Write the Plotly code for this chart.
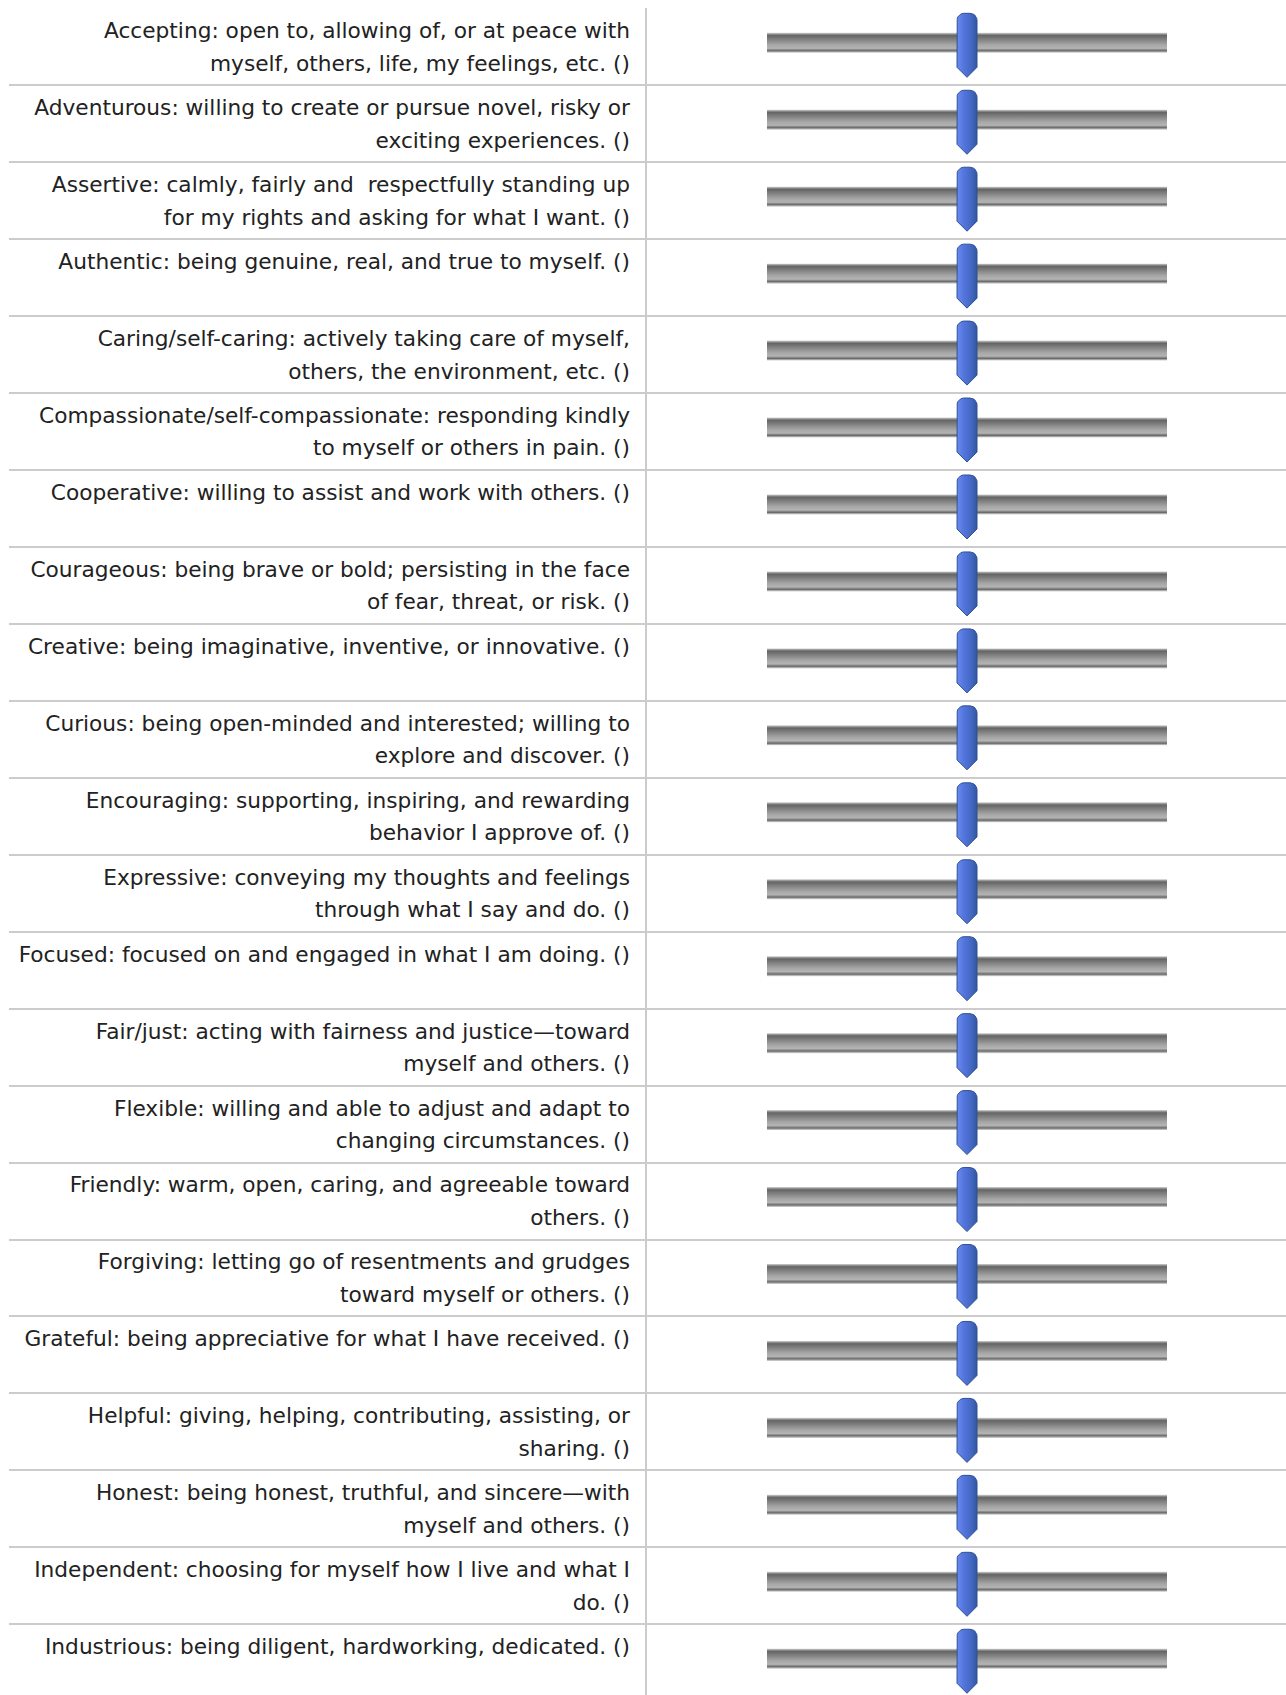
import numpy as np
import plotly.graph_objects as go

# ---- data ----
labels = [
    "Accepting: open to, allowing of, or at peace with<br>myself, others, life, my feelings, etc. ()",
    "Adventurous: willing to create or pursue novel, risky or<br>exciting experiences. ()",
    "Assertive: calmly, fairly and  respectfully standing up<br>for my rights and asking for what I want. ()",
    "Authentic: being genuine, real, and true to myself. ()",
    "Caring/self-caring: actively taking care of myself,<br>others, the environment, etc. ()",
    "Compassionate/self-compassionate: responding kindly<br>to myself or others in pain. ()",
    "Cooperative: willing to assist and work with others. ()",
    "Courageous: being brave or bold; persisting in the face<br>of fear, threat, or risk. ()",
    "Creative: being imaginative, inventive, or innovative. ()",
    "Curious: being open-minded and interested; willing to<br>explore and discover. ()",
    "Encouraging: supporting, inspiring, and rewarding<br>behavior I approve of. ()",
    "Expressive: conveying my thoughts and feelings<br>through what I say and do. ()",
    "Focused: focused on and engaged in what I am doing. ()",
    "Fair/just: acting with fairness and justice\u2014toward<br>myself and others. ()",
    "Flexible: willing and able to adjust and adapt to<br>changing circumstances. ()",
    "Friendly: warm, open, caring, and agreeable toward<br>others. ()",
    "Forgiving: letting go of resentments and grudges<br>toward myself or others. ()",
    "Grateful: being appreciative for what I have received. ()",
    "Helpful: giving, helping, contributing, assisting, or<br>sharing. ()",
    "Honest: being honest, truthful, and sincere\u2014with<br>myself and others. ()",
    "Independent: choosing for myself how I live and what I<br>do. ()",
    "Industrious: being diligent, hardworking, dedicated. ()",
]
values = [50] * 22
slider_min = 0
slider_max = 100

# ---- geometry (pixels) ----
W, H = 1286, 1695
ROW = 76.95
TOP = 8.3
LEFT = 9
DIV = 646.7
TEXT_RIGHT = 630
TRACK_LEFT_PX = 767
PX_PER_UNIT = 4.0

n = len(labels)
px2row = 1.0 / ROW

fig = go.Figure()

# text labels (one point per line)
tx, ty, tt = [], [], []
for i, lab in enumerate(labels):
    for k, line in enumerate(lab.split("<br>")):
        tx.append(TEXT_RIGHT)
        ty.append(i - 0.5 + (24.5 + 32.5 * k) * px2row)
        tt.append(line)
fig.add_trace(go.Scatter(
    x=tx, y=ty, text=tt, mode="text", textposition="middle left",
    textfont=dict(family="DejaVu Sans", size=21.7, color="#222222"),
    xaxis="x", yaxis="y", hoverinfo="skip", showlegend=False,
))

# slider tracks
track_cs = [
    [0.0, "#d4d4d4"], [0.08, "#8a8a8a"], [0.14, "#656565"], [0.3, "#7c7c7c"],
    [0.6, "#a6a6a6"], [0.78, "#b4b4b4"], [0.84, "#8a8a8a"], [0.9, "#6a6a6a"],
    [0.95, "#a8a8a8"], [1.0, "#d6d6d6"],
]
for i in range(n):
    c = i - 4 * px2row
    h = 10.0 * px2row
    fig.add_trace(go.Scatter(
        x=[slider_min, slider_max, slider_max, slider_min, slider_min],
        y=[c - h, c - h, c + h, c + h, c - h],
        mode="lines", line=dict(width=0), fill="toself",
        fillgradient=dict(type="vertical", colorscale=track_cs, start=c - h, stop=c + h),
        xaxis="x2", yaxis="y", hoverinfo="skip", showlegend=False,
    ))

# slider thumbs
thumb_cs = [[0.0, "#6a8cf0"], [0.3, "#5577e0"], [0.7, "#4468c4"], [1.0, "#30589f"]]
hw = 10.0 / PX_PER_UNIT  # half width in slider units
for i, v in enumerate(values):
    top = i - 0.5 + 5.0 * px2row
    r_px = 7.0
    xs, ys = [], []
    xs += [v - hw, v - hw]
    ys += [i - 0.5 + 59.0 * px2row, top + r_px * px2row]
    for a in np.linspace(np.pi, np.pi / 2, 7):
        xs.append(v - hw + (r_px + r_px * np.cos(a)) / PX_PER_UNIT)
        ys.append(top + (r_px - r_px * np.sin(a)) * px2row)
    for a in np.linspace(np.pi / 2, 0, 7):
        xs.append(v + hw - (r_px - r_px * np.cos(a)) / PX_PER_UNIT)
        ys.append(top + (r_px - r_px * np.sin(a)) * px2row)
    xs += [v + hw, v + hw, v, v - hw]
    ys += [top + r_px * px2row, i - 0.5 + 59.0 * px2row, i - 0.5 + 69.0 * px2row, i - 0.5 + 59.0 * px2row]
    fig.add_trace(go.Scatter(
        x=xs, y=ys, mode="lines", line=dict(width=1, color="#2f5096"), fill="toself",
        fillgradient=dict(type="horizontal", colorscale=thumb_cs, start=v - hw, stop=v + hw),
        xaxis="x2", yaxis="y", hoverinfo="skip", showlegend=False,
    ))

y_top_val = -0.5
y_bot_val = -0.5 + (H - TOP) / ROW

fig.update_layout(
    width=W, height=H,
    margin=dict(l=0, r=0, t=0, b=0),
    paper_bgcolor="white", plot_bgcolor="white",
    xaxis=dict(domain=[LEFT / W, DIV / W], range=[LEFT, DIV], visible=False),
    xaxis2=dict(domain=[DIV / W, 1],
                range=[(DIV - TRACK_LEFT_PX) / PX_PER_UNIT, (W - TRACK_LEFT_PX) / PX_PER_UNIT],
                visible=False, anchor="y"),
    yaxis=dict(domain=[0, 1 - TOP / H], range=[y_bot_val, y_top_val], anchor="x2",
               tickvals=[k + 0.5 for k in range(-1, n)], showticklabels=False, ticks="",
               showgrid=True, gridcolor="#cccccc", gridwidth=2, zeroline=False,
               showline=True, linecolor="#cccccc", linewidth=2),
    showlegend=False,
)

fig.write_html("out.html", config={"displayModeBar": False},
               post_script="document.body.style.margin='0px';")
